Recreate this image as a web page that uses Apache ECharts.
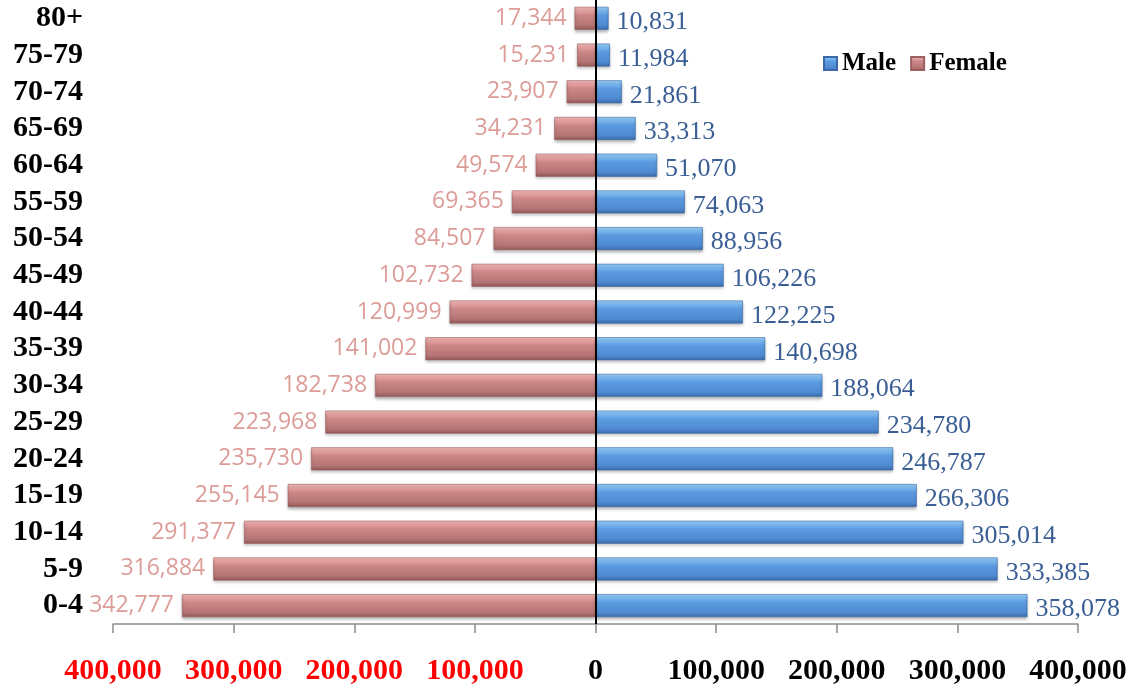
<!DOCTYPE html>
<html>
<head>
<meta charset="utf-8">
<script src="https://cdn.jsdelivr.net/npm/echarts@6/dist/echarts.min.js"></script>
<style>html,body{margin:0;padding:0;background:#fff}#c{width:1135px;height:691px}</style>
</head>
<body>
<div id="c"></div>
<script>
var categories = ['0-4','5-9','10-14','15-19','20-24','25-29','30-34','35-39','40-44','45-49','50-54','55-59','60-64','65-69','70-74','75-79','80+'];
var male = [358078,333385,305014,266306,246787,234780,188064,140698,122225,106226,88956,74063,51070,33313,21861,11984,10831];
var female = [342777,316884,291377,255145,235730,223968,182738,141002,120999,102732,84507,69365,49574,34231,23907,15231,17344];
var xTicks = [-400000,-300000,-200000,-100000,0,100000,200000,300000,400000];

function fmt(v){ return Math.abs(v).toLocaleString('en-US'); }

var chart = echarts.init(document.getElementById('c'));
var maleGrad = new echarts.graphic.LinearGradient(0,0,0,1,[
  {offset:0,color:'#9dd0fa'},{offset:0.18,color:'#7ab8f0'},{offset:0.35,color:'#5b9be0'},
  {offset:0.8,color:'#4f8ad2'},{offset:1,color:'#3a6aa8'}]);
var femaleGrad = new echarts.graphic.LinearGradient(0,0,0,1,[
  {offset:0,color:'#f4bcbc'},{offset:0.18,color:'#e6a0a0'},{offset:0.35,color:'#cc8888'},
  {offset:0.8,color:'#b57474'},{offset:1,color:'#8f5656'}]);

chart.setOption({
  animation:false,
  legend:{
    left:818, top:46, itemWidth:13, itemHeight:13, itemGap:14, icon:'rect',
    data:['Male','Female'],
    textStyle:{fontFamily:'Liberation Serif', fontWeight:'bold', fontSize:25, color:'#000'}
  },
  grid:{left:113, right:57, top:0, bottom:67, containLabel:false},
  xAxis:{
    type:'value', min:xTicks[0], max:xTicks[xTicks.length-1], interval:100000,
    axisLine:{show:true, lineStyle:{color:'#8c8c8c', width:1.5}},
    axisTick:{show:true, length:9, lineStyle:{color:'#8c8c8c', width:1.5}},
    splitLine:{show:false},
    axisLabel:{
      margin:32,
      formatter:function(v){ return v<0 ? '{r|'+fmt(v)+'}' : '{b|'+fmt(v)+'}'; },
      rich:{
        r:{color:'#ff0000', fontFamily:'Liberation Serif', fontWeight:'bold', fontSize:30},
        b:{color:'#000', fontFamily:'Liberation Serif', fontWeight:'bold', fontSize:30}
      }
    }
  },
  yAxis:{
    type:'category', data:categories,
    axisLine:{show:false}, axisTick:{show:false},
    axisLabel:{interval:0, margin:30, color:'#000', fontFamily:'Liberation Serif', fontWeight:'bold', fontSize:30}
  },
  series:[
    {
      name:'Male', type:'bar', data:male, barWidth:23, barGap:'-100%',
      itemStyle:{color:maleGrad, borderColor:'#3d6aa6', borderWidth:0.6,
        shadowBlur:3, shadowOffsetY:2, shadowColor:'rgba(0,0,0,0.3)'},
      label:{show:true, position:'right', distance:8, offset:[0,4], formatter:function(p){return fmt(p.value);},
        color:'#3b5f95', fontFamily:'Liberation Serif', fontSize:26},
      markLine:{silent:true, symbol:'none', label:{show:false},
        lineStyle:{color:'#000', width:2, type:'solid'}, data:[{xAxis:0}]}
    },
    {
      name:'Female', type:'bar', data:female.map(function(v){return -v;}), barWidth:23,
      itemStyle:{color:femaleGrad, borderColor:'#9a5f5f', borderWidth:0.6,
        shadowBlur:3, shadowOffsetY:2, shadowColor:'rgba(0,0,0,0.3)'},
      label:{show:true, position:'left', distance:8, formatter:function(p){return fmt(p.value);},
        color:'#dc9c98', fontFamily:'Open Sans', fontSize:23}
    }
  ]
});
</script>
</body>
</html>
